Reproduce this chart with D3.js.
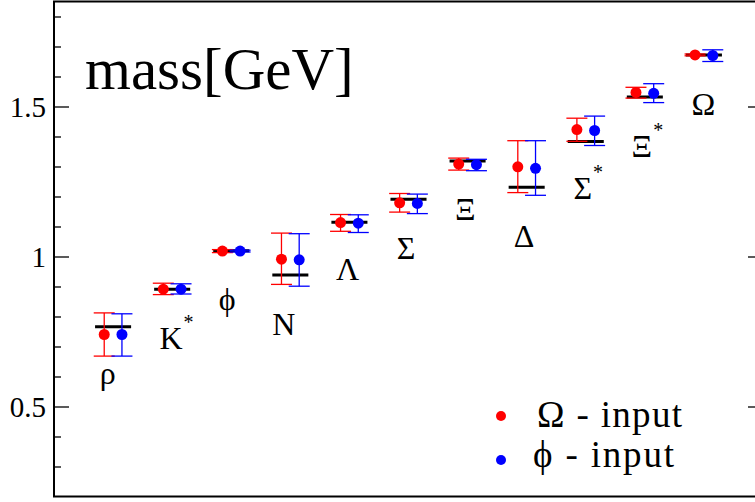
<!DOCTYPE html>
<html>
<head>
<meta charset="utf-8">
<script src="https://cdn.jsdelivr.net/npm/d3@7"></script>
<style>
  body { margin: 0; background: #fff; }
  svg { display: block; }
</style>
</head>
<body>
<svg width="755" height="502" font-family="'Liberation Serif', 'Times New Roman', serif"></svg>
<script>
// hadron names (a trailing * is drawn as a superscript)
const hadrons = ['ρ', 'K*', 'ϕ', 'N', 'Λ', 'Σ', 'Ξ', 'Δ', 'Σ*', 'Ξ*', 'Ω'];

// experimental masses (black bars)
const expMass = [0.766, 0.891, 1.019, 0.938, 1.114, 1.191, 1.318, 1.231, 1.383, 1.532, 1.672];

// Omega-input results (red)
const omegaMean = [0.740, 0.891, 1.018, 0.991, 1.113, 1.179, 1.308, 1.299, 1.423, 1.547, 1.672];
const omegaLow  = [0.668, 0.873, 1.013, 0.907, 1.084, 1.148, 1.288, 1.213, 1.384, 1.528, 1.669];
const omegaHigh = [0.812, 0.911, 1.023, 1.078, 1.140, 1.210, 1.328, 1.386, 1.461, 1.564, 1.675];

// phi-input results (blue)
const phiMean = [0.740, 0.891, 1.018, 0.989, 1.111, 1.177, 1.306, 1.294, 1.420, 1.544, 1.670];
const phiLow  = [0.668, 0.875, 1.015, 0.901, 1.080, 1.143, 1.286, 1.204, 1.370, 1.513, 1.650];
const phiHigh = [0.809, 0.909, 1.021, 1.076, 1.139, 1.208, 1.324, 1.386, 1.468, 1.576, 1.689];

// where each name sits, in axis units (x = slot, y = GeV of the baseline)
const labelX = [0.91, 1.98, 2.93, 3.89, 4.97, 5.96, 6.96, 7.955, 8.95, 9.95, 10.99];
const labelY = [0.575, 0.692, 0.822, 0.738, 0.922, 0.991, 1.122, 1.033, 1.191, 1.333, 1.472];

// y ticks
const majorTicks = [0.5, 1, 1.5];
const minorTicks = [0.3, 0.4, 0.6, 0.7, 0.8, 0.9, 1.1, 1.2, 1.3, 1.4, 1.6, 1.7, 1.8];

const series = [
  { name: 'Ω - input', color: '#ff0000', mean: omegaMean, low: omegaLow, high: omegaHigh, shift: -0.15 },
  { name: 'ϕ - input', color: '#0000ff', mean: phiMean, low: phiLow, high: phiHigh, shift: 0.15 }
];

const serif = "'Liberation Serif', 'Times New Roman', serif";
const svg = d3.select('svg');

const x = d3.scaleLinear().domain([0, 12]).range([54, 763]);
const y = d3.scaleLinear().domain([0.2, 1.85]).range([496.5, 1.5]);

// ticks, inward on both sides
const ax = svg.append('g');
const tickSet = (axis, at, vals, size) =>
  ax.append('g').attr('transform', `translate(${at},0)`)
    .call(axis(y).tickValues(vals).tickSize(size).tickFormat(''))
    .call(g => g.select('.domain').remove());
tickSet(d3.axisRight, x(0), majorTicks, 15);
tickSet(d3.axisRight, x(0), minorTicks, 7);
tickSet(d3.axisLeft, x(12), majorTicks, 15);
tickSet(d3.axisLeft, x(12), minorTicks, 7);
ax.selectAll('line').attr('stroke', '#000').attr('stroke-width', 1.3);

// tick labels
svg.append('g').selectAll('text').data(majorTicks).join('text')
  .attr('x', 46).attr('y', d => y(d))
  .attr('dy', '0.36em')
  .attr('text-anchor', 'end')
  .attr('font-family', serif)
  .attr('font-size', 29)
  .text(d => d);

// frame
svg.append('rect')
  .attr('x', x(0)).attr('y', y(1.85))
  .attr('width', x(12) - x(0)).attr('height', y(0.2) - y(1.85))
  .attr('fill', 'none').attr('stroke', '#000').attr('stroke-width', 2);

// experimental values
svg.append('g').selectAll('line').data(expMass).join('line')
  .attr('x1', (d, i) => x(i + 1 - 0.305))
  .attr('x2', (d, i) => x(i + 1 + 0.305))
  .attr('y1', d => y(d)).attr('y2', d => y(d))
  .attr('stroke', '#000').attr('stroke-width', 3);

// error bars and points
series.forEach(s => {
  const g = svg.append('g');
  const xs = i => x(i + 1 + s.shift);
  g.selectAll('.bar').data(s.mean).join('line').attr('class', 'bar')
    .attr('x1', (d, i) => xs(i)).attr('x2', (d, i) => xs(i))
    .attr('y1', (d, i) => y(s.low[i])).attr('y2', (d, i) => y(s.high[i]))
    .attr('stroke', s.color).attr('stroke-width', 1.3);
  [s.low, s.high].forEach(arr => {
    g.append('g').selectAll('line').data(arr).join('line')
      .attr('x1', (d, i) => xs(i) - 10.5).attr('x2', (d, i) => xs(i) + 10.5)
      .attr('y1', d => y(d)).attr('y2', d => y(d))
      .attr('stroke', s.color).attr('stroke-width', 1.3);
  });
  g.selectAll('circle').data(s.mean).join('circle')
    .attr('cx', (d, i) => xs(i)).attr('cy', d => y(d))
    .attr('r', 5.5).attr('fill', s.color);
});

// hadron names
const labels = svg.append('g').selectAll('g').data(hadrons).join('g')
  .attr('transform', (d, i) => `translate(${x(labelX[i])},${y(labelY[i])})`);
labels.append('text')
  .attr('text-anchor', 'middle')
  .attr('font-family', serif)
  .attr('font-size', 32)
  .text(d => d.replace('*', ''));
labels.filter(d => d.endsWith('*')).append('text')
  .attr('x', function () { return this.parentNode.querySelector('text').getComputedTextLength() / 2 + 1; })
  .attr('y', -20)
  .attr('font-family', serif)
  .attr('font-size', 20)
  .text('*');

// title
svg.append('text')
  .attr('x', 85).attr('y', 89)
  .attr('font-family', serif)
  .attr('font-size', 59)
  .text('mass[GeV]');

// legend
const legend = svg.append('g').selectAll('g').data(series).join('g')
  .attr('transform', (d, i) => `translate(501,${416 + i * 44})`);
legend.append('circle').attr('r', 5).attr('fill', d => d.color);
legend.append('text')
  .attr('x', (d, i) => i ? 32 : 36)
  .attr('y', (d, i) => i ? 7 : 11)
  .attr('font-family', serif)
  .attr('font-size', 37)
  .attr('textLength', (d, i) => i ? 141 : 145)
  .attr('lengthAdjust', 'spacing')
  .text(d => d.name);
</script>
</body>
</html>
